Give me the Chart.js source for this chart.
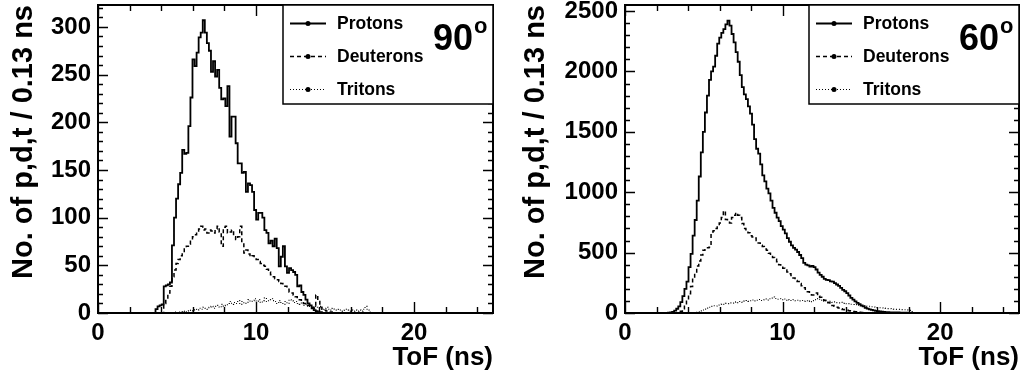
<!DOCTYPE html>
<html>
<head>
<meta charset="utf-8">
<script src="https://cdn.jsdelivr.net/npm/chart.js@4/dist/chart.umd.min.js"></script>
<style>
  html, body { margin: 0; padding: 0; background: #fff; }
  #wrap { display: flex; width: 1024px; height: 380px; }
  .panel { width: 512px; height: 380px; }
  canvas { display: block; }
</style>
</head>
<body>
<div id="wrap">
  <div class="panel"><canvas id="c90" width="512" height="380"></canvas></div>
  <div class="panel"><canvas id="c60" width="512" height="380"></canvas></div>
</div>
<script>
// Time-of-flight histograms, 0.13 ns bins from 0 to 25 ns
const binWidth = 0.13;
const tofMax = 25;
const xTickValues = [0, 10, 20];
const yTicks90 = [0, 50, 100, 150, 200, 250, 300];
const yTicks60 = [0, 500, 1000, 1500, 2000, 2500];
const yMax90 = 323;
const yMax60 = 2550;
const seriesNames = ['Protons', 'Deuterons', 'Tritons'];

// 90 degrees: counts per bin, starting at the given bin index
const protons90Start = 28;
const protons90 = [4, 7, 8, 9, 28, 29, 30, 32, 71, 100, 120, 135, 147, 171, 167, 168,
  196, 226, 266, 259, 273, 289, 294, 307, 294, 283, 275, 253, 264, 248, 255, 236,
  224, 225, 217, 238, 185, 206, 206, 178, 157, 157, 147, 148, 127, 136, 134, 127,
  108, 98, 105, 105, 100, 87, 84, 73, 76, 70, 78, 68, 49, 59, 70, 49,
  42, 47, 45, 43, 40, 28, 29, 22, 19, 14, 10, 8, 5, 3, 2, 1, 1];

const deuterons90Start = 32;
const deuterons90 = [10, 14, 21, 28, 38, 45, 52, 56, 60, 63, 68, 70, 72, 77, 80, 82,
  85, 88, 91, 87, 88, 84, 87, 86, 84, 88, 91, 85, 70, 90, 91, 84,
  85, 87, 80, 77, 80, 91, 75, 63, 66, 62, 59, 60, 58, 56, 54, 52,
  50, 49, 46, 43, 40, 38, 36, 35, 33, 31, 29, 28, 25, 22, 21, 19,
  17, 15, 14, 12, 10, 9, 8, 7, 6, 5, 19, 12, 6, 4, 3, 2, 1, 1];

const tritons90Start = 37;
const tritons90 = [1, 0, 1, 1, 2, 1, 2, 3, 2,
  3, 4, 3, 5, 4, 6, 5, 4, 6, 7,
  5, 7, 8, 6, 9, 7, 8, 10, 12, 9,
  11, 10, 13, 9, 12, 10, 11, 14, 12, 13,
  15, 12, 14, 11, 13, 16, 12, 14, 15, 13,
  12, 10, 13, 11, 9, 12, 10, 14, 13, 11,
  12, 10, 9, 11, 8, 9, 7, 8, 6, 7,
  6, 5, 7, 4, 5, 6, 4, 3, 5, 4,
  3, 4, 2, 3, 4, 3, 2, 3, 2, 3,
  2, 3, 2, 4, 7, 3, 1];

// 60 degrees
const protons60Start = 21;
const protons60 = [3, 5, 10, 20, 35, 55, 90, 140, 200, 260,
  380, 490, 640, 770, 930, 1130, 1330, 1500, 1660, 1800,
  1930, 2000, 2040, 2130, 2230, 2280, 2320, 2350, 2390, 2420,
  2380, 2310, 2240, 2160, 2080, 1970, 1870, 1810, 1770, 1710,
  1650, 1560, 1440, 1360, 1320, 1230, 1140, 1090, 1030, 990,
  930, 870, 830, 790, 760, 720, 690, 660, 620, 590,
  560, 540, 525, 505, 480, 455, 415, 400, 395, 385,
  390, 380, 360, 335, 315, 300, 282, 275, 272, 262,
  260, 248, 236, 225, 208, 192, 180, 165, 145, 125,
  110, 96, 84, 74, 62, 55, 42, 36, 30, 26,
  22, 18, 15, 13, 11, 10, 8, 7, 6, 5,
  5, 4, 4, 3, 3, 2, 2, 1, 1];

const deuterons60Start = 26;
const deuterons60 = [5, 15, 35, 70, 110, 160, 220, 290, 340, 390,
  430, 480, 520, 540, 540, 545, 670, 680, 700, 720,
  745, 790, 845, 775, 760, 745, 790, 810, 830, 810,
  790, 740, 700, 690, 665, 640, 630, 620, 600, 580,
  560, 550, 530, 520, 495, 480, 460, 445, 425, 400,
  385, 370, 355, 340, 325, 310, 290, 270, 260, 245,
  225, 210, 190, 175, 160, 150, 150, 165, 140, 130,
  120, 105, 95, 85, 70, 62, 55, 48, 42, 35,
  30, 26, 22, 19, 15, 12, 10, 8, 6, 5,
  4, 3, 2, 1];

const tritons60Start = 34;
const tritons60 = [3, 6, 10, 18, 25, 32, 40, 48, 55, 60,
  58, 66, 70, 74, 72, 80, 78, 84, 82, 88,
  92, 86, 95, 90, 98, 104, 96, 102, 108, 100,
  106, 112, 104, 110, 116, 108, 118, 124, 132, 120,
  114, 118, 110, 116, 106, 112, 108, 104, 110, 102,
  106, 100, 104, 98, 102, 96, 100, 94, 104, 112,
  120, 108, 98, 102, 94, 90, 96, 88, 92, 86,
  84, 88, 80, 82, 76, 78, 72, 70, 68, 70,
  64, 62, 60, 58, 55, 56, 52, 50, 48, 46,
  44, 42, 40, 38, 36, 35, 33, 32, 30, 30,
  29, 28, 27, 26, 25, 22, 12, 4];

const FONT = "'Liberation Sans', Arial, Helvetica, sans-serif";

// Expand one histogram into bin-edge points; each value is held to the next edge
function histPoints(start, values) {
  const nBins = Math.ceil(tofMax / binWidth) + 1;
  const pts = [];
  for (let i = 0; i <= nBins; i++) {
    const k = i - start;
    const v = (k >= 0 && k < values.length) ? values[k] : 0;
    pts.push({ x: +(i * binWidth).toFixed(3), y: v });
  }
  return pts;
}

const lineStyles = [
  { borderWidth: 1.8, borderDash: [] },
  { borderWidth: 1.5, borderDash: [4, 3] },
  { borderWidth: 1.1, borderDash: [1, 2] }
];

// Frame with inward major/minor ticks on all four sides
const frameTicks = {
  id: 'frameTicks',
  afterDatasetsDraw(chart, args, opts) {
    const { ctx, chartArea: a, scales: { x, y } } = chart;
    ctx.save();
    ctx.strokeStyle = '#000';
    ctx.lineWidth = 1.4;
    ctx.beginPath();
    for (let v = 0; v <= tofMax + 1e-9; v += opts.xMinor) {
      const px = Math.round(x.getPixelForValue(v)) + 0.5;
      const major = Math.abs(v / opts.xMajor - Math.round(v / opts.xMajor)) < 1e-6;
      const len = major ? 11 : 6;
      ctx.moveTo(px, a.bottom); ctx.lineTo(px, a.bottom - len);
      ctx.moveTo(px, a.top); ctx.lineTo(px, a.top + len);
    }
    for (let v = 0; v <= y.max + 1e-9; v += opts.yMinor) {
      const py = Math.round(y.getPixelForValue(v)) + 0.5;
      const major = Math.abs(v / opts.yMajor - Math.round(v / opts.yMajor)) < 1e-6;
      const len = major ? 10 : 5;
      ctx.moveTo(a.left, py); ctx.lineTo(a.left + len, py);
      ctx.moveTo(a.right, py); ctx.lineTo(a.right - len, py);
    }
    ctx.stroke();
    ctx.lineWidth = 2;
    ctx.strokeRect(a.left, a.top, a.right - a.left, a.bottom - a.top);
    ctx.restore();
  }
};

// Legend box with line samples and markers, plus the angle label
const tofLegend = {
  id: 'tofLegend',
  afterDraw(chart, args, opts) {
    const { ctx, chartArea: a } = chart;
    const bw = 210, bh = 99;
    const bx = a.right - bw, by = a.top;
    ctx.save();
    ctx.fillStyle = '#fff';
    ctx.fillRect(bx, by, bw, bh);
    ctx.strokeStyle = '#000';
    ctx.lineWidth = 1.5;
    ctx.strokeRect(bx, by, bw, bh);
    const rows = [18, 51, 84];
    chart.data.datasets.forEach((ds, i) => {
      const ry = by + rows[i] + 0.5;
      ctx.setLineDash(ds.borderDash || []);
      ctx.lineWidth = ds.borderWidth;
      ctx.beginPath();
      ctx.moveTo(bx + 7, ry); ctx.lineTo(bx + 43, ry);
      ctx.stroke();
      ctx.setLineDash([]);
      ctx.fillStyle = '#000';
      ctx.beginPath();
      ctx.arc(bx + 25, ry, 2.5, 0, Math.PI * 2);
      ctx.fill();
      ctx.font = "bold 17.5px " + FONT;
      ctx.textBaseline = 'middle';
      ctx.textAlign = 'left';
      ctx.fillText(ds.label, bx + 54, ry + 1);
    });
    ctx.fillStyle = '#000';
    ctx.textBaseline = 'alphabetic';
    ctx.font = "bold 36px " + FONT;
    ctx.textAlign = 'right';
    ctx.fillText(opts.angle, a.right - 20, a.top + 45);
    ctx.font = "bold 22px " + FONT;
    ctx.textAlign = 'left';
    ctx.fillText('o', a.right - 19, a.top + 28);
    ctx.restore();
  }
};

function makeChart(id, cfg) {
  const datasets = cfg.series.map((s, i) => ({
    label: seriesNames[i],
    data: histPoints(s.start, s.values),
    borderColor: '#000',
    borderWidth: lineStyles[i].borderWidth,
    borderDash: lineStyles[i].borderDash,
    pointRadius: 0,
    stepped: true,
    fill: false,
    tension: 0,
    order: i
  }));
  return new Chart(document.getElementById(id), {
    type: 'line',
    data: { datasets: datasets },
    options: {
      responsive: false,
      animation: false,
      devicePixelRatio: 1,
      layout: { padding: { top: 5, right: cfg.padRight, left: 0, bottom: 0 } },
      plugins: {
        legend: { display: false },
        tooltip: { enabled: false },
        frameTicks: { xMinor: 2, xMajor: 10, yMinor: cfg.yMinor, yMajor: cfg.yMajor },
        tofLegend: { angle: cfg.angle }
      },
      scales: {
        x: {
          type: 'linear', min: 0, max: tofMax,
          grid: { display: false, drawTicks: false },
          border: { display: false },
          ticks: { color: '#000', padding: 6, maxRotation: 0,
                   font: { family: FONT, size: 24, weight: 'bold' },
                   callback: v => String(v) },
          title: { display: true, text: 'ToF (ns)', align: 'end', color: '#000',
                   font: { family: FONT, size: 26, weight: 'bold' }, padding: { top: 0, bottom: 7 } },
          afterBuildTicks: s => { s.ticks = xTickValues.map(v => ({ value: v })); },
          afterFit: s => { s.height = 67; s.paddingLeft = 0; s.paddingRight = 0; }
        },
        y: {
          type: 'linear', min: 0, max: cfg.yMax,
          grid: { display: false, drawTicks: false },
          border: { display: false },
          ticks: { color: '#000', padding: 7,
                   font: { family: FONT, size: 24, weight: 'bold' },
                   callback: v => String(v) },
          title: { display: true, text: 'No. of p,d,t / 0.13 ns', align: 'end', color: '#000',
                   font: { family: FONT, size: 29, weight: 'bold' }, padding: { top: 7, bottom: 0 } },
          afterBuildTicks: s => { s.ticks = cfg.yTicks.map(v => ({ value: v })); },
          afterFit: s => { s.width = cfg.yWidth; s.paddingTop = 0; s.paddingBottom = 0; }
        }
      }
    },
    plugins: [frameTicks, tofLegend]
  });
}

makeChart('c90', {
  series: [
    { start: protons90Start, values: protons90 },
    { start: deuterons90Start, values: deuterons90 },
    { start: tritons90Start, values: tritons90 }
  ],
  yMax: yMax90, yTicks: yTicks90, yMinor: 10, yMajor: 50,
  yWidth: 98, padRight: 19, angle: '90'
});

makeChart('c60', {
  series: [
    { start: protons60Start, values: protons60 },
    { start: deuterons60Start, values: deuterons60 },
    { start: tritons60Start, values: tritons60 }
  ],
  yMax: yMax60, yTicks: yTicks60, yMinor: 100, yMajor: 500,
  yWidth: 113, padRight: 5, angle: '60'
});
</script>
</body>
</html>
